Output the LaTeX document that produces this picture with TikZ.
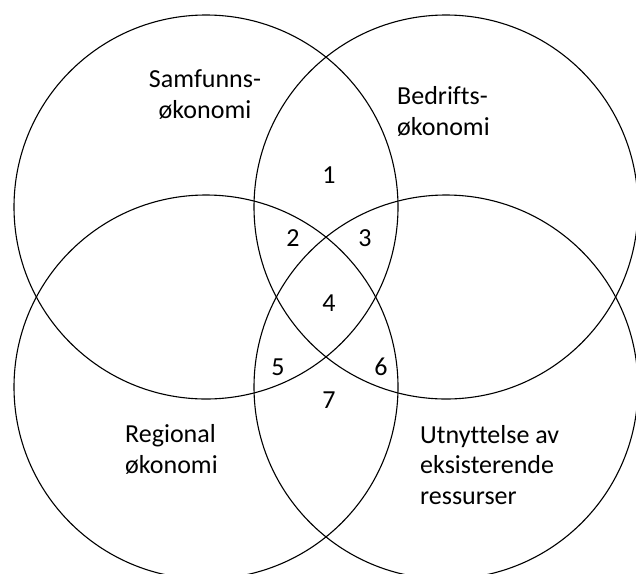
\documentclass[tikz,border=0pt]{standalone}
\usepackage{fontspec}
\setmainfont{Carlito}[Ligatures=NoCommon]
\usepackage{tikz}
\tikzset{venn/.style={circle,draw=black,line width=1.1pt,minimum size=384pt,inner sep=0pt}}
\tikzset{lbl/.style={font=\fontsize{26}{30.5}\selectfont,inner sep=0pt}}
\begin{document}
\begin{tikzpicture}[x=1pt,y=-1pt]
\useasboundingbox (0,0) rectangle (636,573);
% \draw[help lines] (0,0) grid[step=50] (636,573);
\node (samf) [venn] at (206,207) {};
\node (bedr) [venn] at (446,207) {};
\node (regi) [venn] at (206,387) {};
\node (utny) [venn] at (446,387) {};
%
\node (samft) [lbl,align=center,anchor=base] at (205,118) {Samfunns-\\økonomi};
\node (bedrt) [lbl,align=left,anchor=base west] at (397,135) {Bedrifts-\\økonomi};
\node (regit) [lbl,align=left,anchor=base west] at (125,473) {Regional\\økonomi};
\node (utnyt) [lbl,align=left,anchor=base west] at (420,504) {Utnyttelse av\\eksisterende\\ressurser};
%
\node (n1) [lbl] at (329,175) {1};
\node (n2) [lbl] at (293,238) {2};
\node (n3) [lbl] at (365,238) {3};
\node (n4) [lbl] at (329,303) {4};
\node (n5) [lbl] at (278,367) {5};
\node (n6) [lbl] at (381,367) {6};
\node (n7) [lbl] at (329,400) {7};
%
\end{tikzpicture}
\end{document}
